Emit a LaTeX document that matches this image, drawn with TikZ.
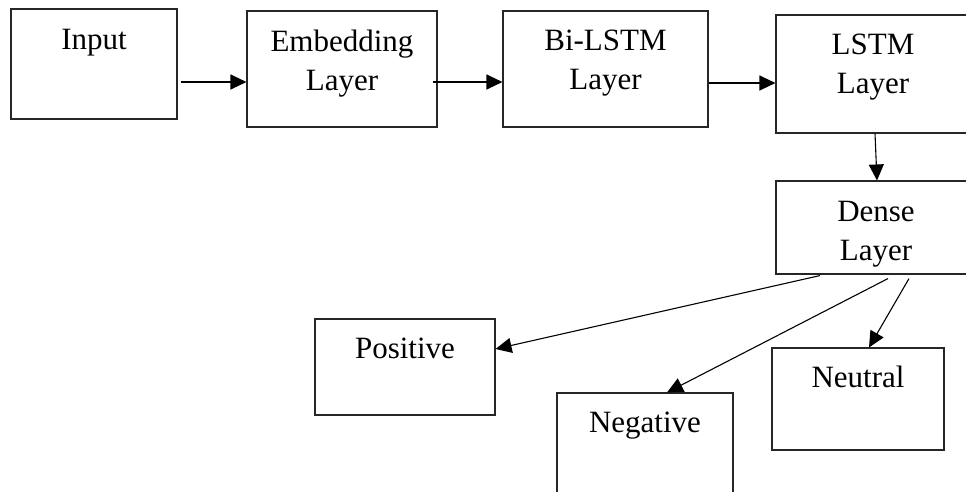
\documentclass[tikz,border=0pt]{standalone}
\usepackage{fontspec}
\setmainfont{Liberation Serif}
\usetikzlibrary{arrows.meta}
\tikzset{
  box/.style={draw=black!85, line width=1.1pt, rectangle, inner sep=0pt},
  lbl/.style={anchor=base, inner sep=0pt, font=\fontsize{31}{39}\selectfont},
  conn/.style={draw=black, line width=1.1pt, -{Triangle[length=16pt,width=15pt]}}
}
\newcommand{\twoline}[2]{\begin{tabular}[t]{@{}c@{}}#1\\#2\end{tabular}}
\begin{document}
\begin{tikzpicture}[x=1pt,y=-1pt]
\useasboundingbox (0,0) rectangle (966,491);
% boxes
\node[box, minimum width=166pt, minimum height=110pt] (input) at (94,64) {};
\node[box, minimum width=190pt, minimum height=116pt] (emb) at (342,69) {};
\node[box, minimum width=205pt, minimum height=116pt] (bilstm) at (605.5,69) {};
\node[box, minimum width=194pt, minimum height=118pt] (lstm) at (873,74) {};
\node[box, minimum width=200pt, minimum height=93pt] (dense) at (876,227.5) {};
\node[box, minimum width=180pt, minimum height=96pt] (pos) at (405,367) {};
\node[box, minimum width=176pt, minimum height=110pt] (neg) at (645,448) {};
\node[box, minimum width=172pt, minimum height=102pt] (neu) at (858,399) {};
% labels
\node[lbl] (inputT) at ([yshift=-41pt]input.north) {Input};
\node[lbl] (embT) at ([yshift=-41pt]emb.north) {\twoline{Embedding}{Layer}};
\node[lbl] (bilstmT) at ([yshift=-40pt]bilstm.north) {\twoline{Bi-LSTM}{Layer}};
\node[lbl] (lstmT) at ([yshift=-40pt]lstm.north) {\twoline{LSTM}{Layer}};
\node[lbl] (denseT) at ([yshift=-41pt]dense.north) {\twoline{Dense}{Layer}};
\node[lbl] (posT) at ([yshift=-40pt]pos.north) {Positive};
\node[lbl] (negT) at ([yshift=-40pt]neg.north) {Negative};
\node[lbl] (neuT) at ([yshift=-40pt]neu.north) {Neutral};
% connectors
\draw[conn] ([xshift=3pt,yshift=-18pt]input.east) -- ([yshift=-13pt]emb.west);
\draw[conn] ([xshift=-5pt,yshift=-13pt]emb.east) -- ([yshift=-13pt]bilstm.west);
\draw[conn] ([xshift=0pt,yshift=-14pt]bilstm.east) -- ([yshift=-9pt]lstm.west);
\draw[conn] ([xshift=2pt]lstm.south) -- ([xshift=1pt]dense.north);
\draw[conn] ([xshift=-56pt,yshift=-1pt]dense.south) -- ([yshift=18pt]pos.east);
\draw[conn] ([xshift=12pt,yshift=-4pt]dense.south) -- ([xshift=22pt]neg.north);
\draw[conn] ([xshift=33pt,yshift=-4pt]dense.south) -- ([xshift=11pt]neu.north);
\end{tikzpicture}
\end{document}
